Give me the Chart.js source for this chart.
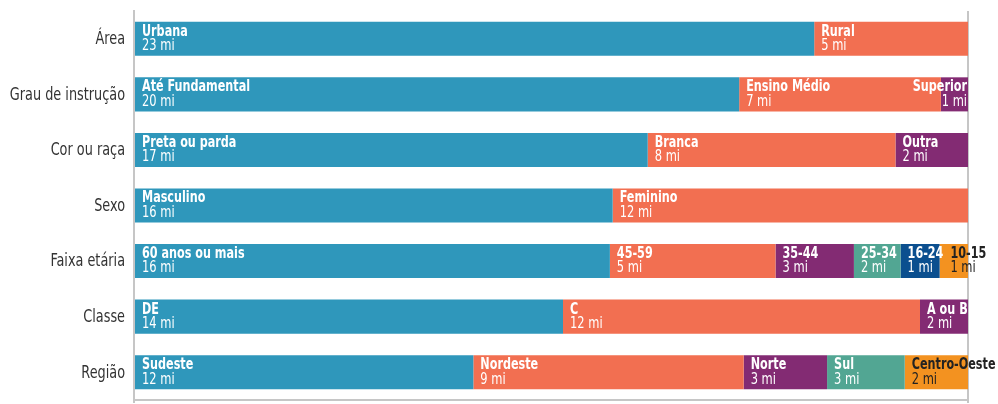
<!DOCTYPE html>
<html>
<head>
<meta charset="utf-8">
<script src="https://cdn.jsdelivr.net/npm/chart.js@4/dist/chart.umd.min.js"></script>
<style>
  html, body { margin: 0; padding: 0; background: #fff; }
  #wrap { width: 998px; height: 404px; position: relative; }
</style>
</head>
<body>
<div id="wrap"><canvas id="chart"></canvas></div>
<script>
// ===== DADOS (milhões de pessoas) =====
const categories = ['Área', 'Grau de instrução', 'Cor ou raça', 'Sexo', 'Faixa etária', 'Classe', 'Região'];

const segmentNames = [
  ['Urbana', 'Rural'],
  ['Até Fundamental', 'Ensino Médio', 'Superior'],
  ['Preta ou parda', 'Branca', 'Outra'],
  ['Masculino', 'Feminino'],
  ['60 anos ou mais', '45-59', '35-44', '25-34', '16-24', '10-15'],
  ['DE', 'C', 'A ou B'],
  ['Sudeste', 'Nordeste', 'Norte', 'Sul', 'Centro-Oeste']
];

const segmentValues = [
  [23.0, 5.2],
  [20.1, 6.7, 0.9],
  [17.0, 8.2, 2.4],
  [16.3, 12.1],
  [15.6, 5.43, 2.57, 1.53, 1.28, 0.93],
  [14.3, 11.9, 1.6],
  [11.8, 9.4, 2.9, 2.7, 2.2]
];

// ===== CORES =====
const BLUE = '#2f97bb', RED = '#f26f51', PURPLE = '#832b73',
      TEAL = '#52a693', NAVY = '#0b4f8f', ORANGE = '#f39220';
const rowColors = [
  [BLUE, RED],
  [BLUE, RED, PURPLE],
  [BLUE, RED, PURPLE],
  [BLUE, RED],
  [BLUE, RED, PURPLE, TEAL, NAVY, ORANGE],
  [BLUE, RED, PURPLE],
  [BLUE, RED, PURPLE, TEAL, ORANGE]
];
const rightAligned = new Set(['Superior']);
const FONT = '"DejaVu Sans Condensed", "DejaVu Sans", sans-serif';
const SQUEEZE = 0.83; // imita a fonte condensada do original

// Cada linha é normalizada para 100%
const maxSegs = Math.max(...segmentValues.map(r => r.length));
const datasets = [];
for (let j = 0; j < maxSegs; j++) {
  datasets.push({
    data: segmentValues.map(row => {
      const total = row.reduce((a, b) => a + b, 0);
      return j < row.length ? row[j] / total * 100 : null;
    }),
    backgroundColor: rowColors.map(c => c[j] || 'transparent'),
    borderWidth: 0,
    categoryPercentage: 1,
    barPercentage: 0.613
  });
}

// texto comprimido na horizontal
function squeezedText(ctx, text, x, y, align, sx) {
  ctx.save();
  ctx.translate(x, y);
  ctx.scale(sx, 1);
  ctx.textAlign = align;
  ctx.fillText(text, 0, 0);
  ctx.restore();
}

// ===== RÓTULOS: CATEGORIAS + SEGMENTOS =====
const segmentLabels = {
  id: 'segmentLabels',
  afterDatasetsDraw(chart) {
    const ctx = chart.ctx;
    const yScale = chart.scales.y;
    ctx.save();
    ctx.textBaseline = 'middle';

    // nomes das categorias à esquerda
    ctx.font = '17px ' + FONT;
    ctx.fillStyle = '#333';
    categories.forEach((cat, i) => {
      squeezedText(ctx, cat, chart.chartArea.left - 9, yScale.getPixelForValue(i) + 1, 'right', 0.84);
    });

    categories.forEach((cat, i) => {
      let prevEnd = -Infinity;
      segmentNames[i].forEach((name, j) => {
        const el = chart.getDatasetMeta(j).data[i];
        if (!el) return;
        const val = Math.round(segmentValues[i][j]) + ' mi';
        ctx.fillStyle = rowColors[i][j] === ORANGE ? '#222' : '#fff';
        ctx.font = 'bold 15px ' + FONT;
        const w1 = ctx.measureText(name).width * SQUEEZE;
        ctx.font = '15px ' + FONT;
        const w2 = ctx.measureText(val).width * 0.85;
        const w = Math.max(w1, w2);
        let x, align = 'left';
        if (rightAligned.has(name)) {
          x = el.x - 1;
          align = 'right';
        } else {
          x = Math.max(el.base + 7, prevEnd + 7);
          prevEnd = x + w;
        }
        ctx.font = 'bold 15px ' + FONT;
        squeezedText(ctx, name, x, el.y - 7, align, SQUEEZE);
        ctx.font = '15px ' + FONT;
        squeezedText(ctx, val, x, el.y + 7.5, align, 0.85);
      });
    });
    ctx.restore();
  }
};

new Chart(document.getElementById('chart'), {
  type: 'bar',
  data: { labels: categories, datasets },
  plugins: [segmentLabels],
  options: {
    indexAxis: 'y',
    responsive: true,
    maintainAspectRatio: false,
    animation: false,
    layout: { padding: { top: 11, right: 30, bottom: 0, left: 0 } },
    plugins: { legend: { display: false }, tooltip: { enabled: false } },
    scales: {
      x: {
        stacked: true,
        min: 0,
        max: 100,
        ticks: { display: false, stepSize: 100 },
        grid: {
          drawTicks: true,
          tickLength: 3,
          lineWidth: 2,
          color: '#c6c6c6'
        },
        border: { display: true, color: '#c6c6c6', width: 2 },
        afterFit: (s) => { s.height = 4; }
      },
      y: {
        stacked: true,
        grid: { display: false },
        border: { display: true, color: '#c6c6c6', width: 2 },
        ticks: { display: false },
        afterFit: (s) => { s.width = 134; }
      }
    }
  }
});
</script>
</body>
</html>
